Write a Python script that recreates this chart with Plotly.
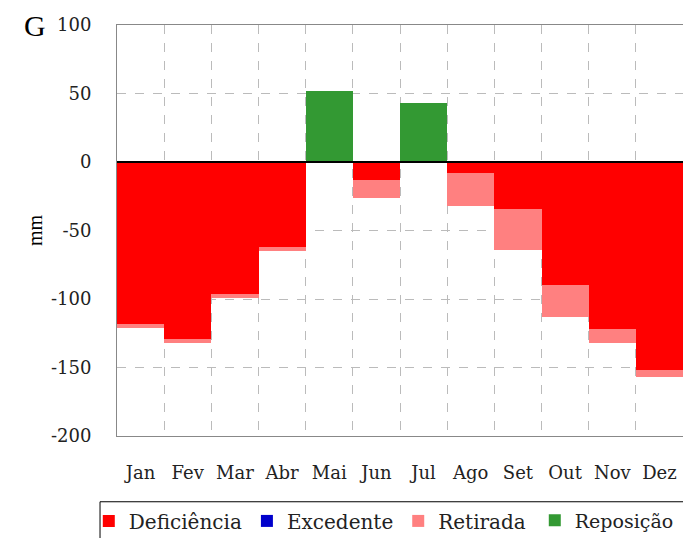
import plotly.graph_objects as go

meses = ['Jan', 'Fev', 'Mar', 'Abr', 'Mai', 'Jun', 'Jul', 'Ago', 'Set', 'Out', 'Nov', 'Dez']
deficiencia = [-118, -129, -96, -62, 0, -13, 0, -8, -34, -90, -122, -152]
excedente = [0, 0, 0, 0, 0, 0, 0, 0, 0, 0, 0, 0]
retirada = [-3, -3, -3, -3, 0, -13, 0, -24, -30, -23, -10, -5]
reposicao = [0, 0, 0, 0, 52, 0, 43, 0, 0, 0, 0, 0]
y_ticks = [-200, -150, -100, -50, 0, 50, 100]
y_labels = ['-200', '-150', '-100', '-50', '0', '50', '100']

x = list(range(1, len(meses) + 1))
serif = 'DejaVu Serif'

fig = go.Figure()
fig.add_trace(go.Bar(x=x, y=deficiencia, name='Deficiência', marker_color='#FF0000'))
fig.add_trace(go.Bar(x=x, y=excedente, name='Excedente', marker_color='#0000CC'))
fig.add_trace(go.Bar(x=x, y=retirada, name='Retirada', marker_color='#FF8080'))
# a ultima entrada vai numa segunda legenda para nao quebrar linha
fig.add_trace(go.Bar(x=x, y=reposicao, name='Reposição', marker_color='#339933', legend='legend2'))
fig.update_traces(marker_line_width=0)

leg = dict(orientation='h', xref='container', yref='container', y=0.068,
           xanchor='left', yanchor='top', itemwidth=30,
           font=dict(family=serif, size=20, color='#222222'),
           bgcolor='rgba(0,0,0,0)', traceorder='normal')

fig.update_layout(
    width=683, height=538,
    barmode='relative', bargap=0,
    plot_bgcolor='white', paper_bgcolor='white',
    margin=dict(l=117, r=0, t=25, b=102),
    font=dict(family=serif, size=18, color='black'),
    legend=dict(leg, x=0.130),
    legend2=dict(leg, x=0.783, font=dict(family=serif, size=19, color='#222222')),
)

fig.update_xaxes(
    range=[0.5, 12.5], tickmode='array', tickvals=x, ticktext=meses,
    showgrid=False, ticks='', ticklabelstandoff=20, automargin=False,
    tickfont=dict(family=serif, size=18, color='#222222'),
    showline=True, linecolor='#888888', mirror=True,
    minor=dict(tickmode='linear', tick0=0.5, dtick=1, showgrid=True,
               gridcolor='#BBBBBB', griddash='dash', gridwidth=1),
)
fig.update_yaxes(
    range=[-200, 100], tickmode='array', tickvals=y_ticks, ticktext=y_labels,
    showgrid=True, gridcolor='#BBBBBB', griddash='dash', zeroline=False,
    showline=True, linecolor='#888888', mirror=True, ticks='',
    ticklabelstandoff=21, automargin=False,
    tickfont=dict(family=serif, size=18, color='#222222'),
    title=dict(text='mm', standoff=2, font=dict(family='Liberation Serif', size=20)),
)

fig.add_hline(y=0, line_color='black', line_width=2)

# moldura da legenda
fig.add_shape(type='rect', xref='paper', yref='paper', x0=-0.03, x1=1.05, y0=-0.4, y1=-0.16,
              line=dict(color='black', width=1))

fig.add_annotation(text='G', xref='paper', yref='paper', x=-0.145, y=1.0, xanchor='center', yanchor='middle',
                   showarrow=False, font=dict(family='Liberation Serif', size=30))

# sem margem do body, para a figura ocupar a janela inteira
fig.write_html('out.html', config={'displayModeBar': False},
               post_script="document.body.style.margin='0';")
